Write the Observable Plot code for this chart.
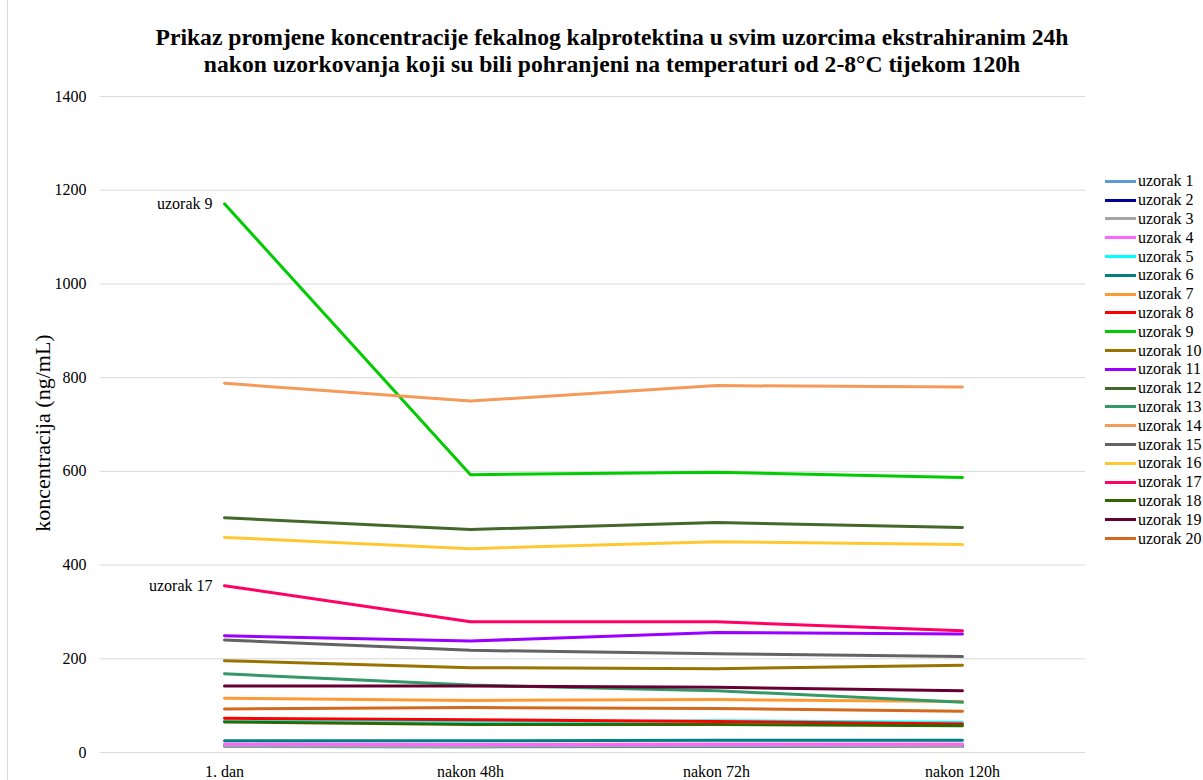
<!DOCTYPE html>
<html>
<head>
<meta charset="utf-8">
<script src="https://cdn.jsdelivr.net/npm/d3@7"></script>
<script src="https://cdn.jsdelivr.net/npm/@observablehq/plot@0.6"></script>
<style>
  body { margin: 0; background: #fff; }
  #wrap { position: relative; width: 1203px; height: 780px; background: #fff; overflow: hidden; font-family: "Liberation Serif", "Times New Roman", serif; }
  #frame { position: absolute; left: 7px; top: -2px; width: 1200px; height: 790px; border-left: 1px solid #d9d9d9; box-sizing: border-box; }
  #title { position: absolute; left: 60px; width: 1104px; top: 24px; text-align: center; font-weight: bold; font-size: 23.6px; line-height: 27px; color: #000; white-space: nowrap; }
  #chart { position: absolute; left: 0; top: 80px; }
  #ylab { position: absolute; left: 43px; top: 433px; transform: translate(-50%, -50%) rotate(-90deg); font-size: 22px; white-space: nowrap; color: #000; }
  #legend { position: absolute; left: 1105px; top: 172px; }
  .li { display: flex; align-items: center; height: 18.8px; font-size: 16px; color: #000; }
  .sw { width: 31px; height: 3px; margin-right: 2px; }
</style>
</head>
<body>
<div id="wrap">
  <div id="frame"></div>
  <div id="title">Prikaz promjene koncentracije fekalnog kalprotektina u svim uzorcima ekstrahiranim 24h<br>nakon uzorkovanja koji su bili pohranjeni na temperaturi od 2-8°C tijekom 120h</div>
  <div id="chart"></div>
  <div id="ylab">koncentracija (ng/mL)</div>
  <div id="legend"></div>
</div>
<script>
const categories = ["1. dan", "nakon 48h", "nakon 72h", "nakon 120h"];
const seriesNames = ["uzorak 1","uzorak 2","uzorak 3","uzorak 4","uzorak 5","uzorak 6","uzorak 7","uzorak 8","uzorak 9","uzorak 10","uzorak 11","uzorak 12","uzorak 13","uzorak 14","uzorak 15","uzorak 16","uzorak 17","uzorak 18","uzorak 19","uzorak 20"];
const seriesColors = ["#5b9bd5","#000099","#a5a5a5","#ff66ff","#00ffff","#008080","#ff9933","#ff0000","#00cc00","#997300","#9900ff","#43682b","#339966","#f69a5a","#636363","#ffc832","#ff0066","#336600","#660033","#d2691e"];
const s1  = [13, 12, 13, 13];
const s2  = [15, 14, 14, 14];
const s3  = [14, 13, 14, 13];
const s4  = [18, 17, 18, 18];
const s5  = [67, 64, 68, 64];
const s6  = [25, 25, 26, 26];
const s7  = [116, 111, 113, 109];
const s8  = [73, 70, 66, 61];
const s9  = [1171, 593, 598, 587];
const s10 = [196, 181, 179, 186];
const s11 = [249, 238, 256, 253];
const s12 = [501, 476, 491, 480];
const s13 = [168, 144, 132, 107];
const s14 = [788, 750, 783, 780];
const s15 = [240, 218, 211, 205];
const s16 = [459, 435, 450, 444];
const s17 = [356, 279, 279, 260];
const s18 = [65, 60, 60, 57];
const s19 = [142, 142, 139, 132];
const s20 = [93, 96, 94, 88];
const yTicks = [0, 200, 400, 600, 800, 1000, 1200, 1400];
const labelled = ["uzorak 9", "uzorak 17"];

const allSeries = [s1,s2,s3,s4,s5,s6,s7,s8,s9,s10,s11,s12,s13,s14,s15,s16,s17,s18,s19,s20];
const rows = [];
allSeries.forEach((vals, i) => vals.forEach((v, j) => rows.push({name: seriesNames[i], cat: categories[j], value: v})));
const labelRows = rows.filter(d => labelled.includes(d.name) && d.cat === categories[0]);

const chart = Plot.plot({
  width: 1203,
  height: 700,
  marginLeft: 100,
  marginRight: 118,
  marginTop: 16,
  marginBottom: 28,
  style: {fontFamily: "'Liberation Serif', 'Times New Roman', serif", fontSize: "16px", color: "#000", background: "transparent"},
  x: {type: "point", domain: categories, padding: 0.5, label: null},
  y: {domain: [0, 1400], label: null},
  color: {domain: seriesNames, range: seriesColors},
  marks: [
    Plot.gridY(yTicks, {stroke: "#d9d9d9", strokeOpacity: 1, strokeWidth: 1}),
    Plot.axisY(yTicks, {tickSize: 0, tickPadding: 14, fontSize: 16, fill: "#000", label: null, tickFormat: d => String(d)}),
    Plot.axisX({tickSize: 0, tickPadding: 13, fontSize: 16, fill: "#000", label: null}),
    Plot.line(rows, {x: "cat", y: "value", z: "name", stroke: "name", strokeWidth: 3, strokeLinejoin: "round", strokeLinecap: "round"}),
    Plot.text(labelRows, {x: "cat", y: "value", text: "name", textAnchor: "end", dx: -12, fontSize: 16, fill: "#000"})
  ]
});
document.getElementById("chart").appendChild(chart);

const legend = document.getElementById("legend");
seriesNames.forEach((n, i) => {
  const row = document.createElement("div");
  row.className = "li";
  const sw = document.createElement("span");
  sw.className = "sw";
  sw.style.background = seriesColors[i];
  const t = document.createElement("span");
  t.textContent = n;
  row.appendChild(sw);
  row.appendChild(t);
  legend.appendChild(row);
});
</script>
</body>
</html>
